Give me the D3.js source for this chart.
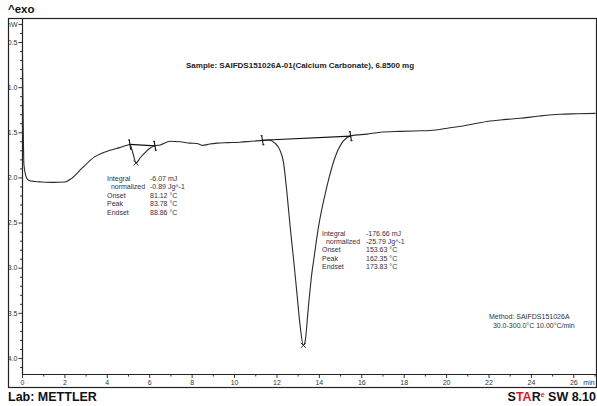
<!DOCTYPE html>
<html>
<head>
<meta charset="utf-8">
<script src="https://cdn.jsdelivr.net/npm/d3@7/dist/d3.min.js"></script>
<style>
  html, body { margin: 0; padding: 0; background: #fff; }
  svg { display: block; font-family: "Liberation Sans", Arial, sans-serif; }
</style>
</head>
<body>
<svg id="chart" width="597" height="406"></svg>
<script>
// ---- data (time in min, heat flow in mW) ----
const time = [0.02,0.06,0.09,0.19,0.30,0.60,0.93,1.5,2.03,2.34,2.82,3.44,4.15,4.6,5.0,5.09,5.24,5.38,5.57,5.8,6.03,6.27,6.51,6.98,7.45,7.92,8.25,8.54,8.85,9.20,9.7,10.28,10.8,11.37,11.62,11.93,12.17,12.33,12.49,12.64,12.80,12.96,13.11,13.27,13.35,13.50,13.66,13.79,13.96,14.37,14.84,15.08,15.32,15.50,16.27,16.89,17.83,18.5,19.25,20.19,20.80,21.93,22.7,23.49,24.4,25.38,26.2,27.05];
const heatFlow = [0.59,1.47,1.86,1.99,2.03,2.045,2.05,2.055,2.05,2.01,1.90,1.77,1.70,1.67,1.64,1.635,1.74,1.84,1.785,1.726,1.677,1.65,1.64,1.60,1.605,1.62,1.625,1.645,1.63,1.62,1.615,1.61,1.60,1.59,1.585,1.62,1.70,1.83,2.16,2.53,2.89,3.27,3.63,3.86,3.82,3.45,3.08,2.86,2.58,2.11,1.73,1.62,1.56,1.54,1.52,1.50,1.49,1.485,1.48,1.45,1.43,1.38,1.36,1.345,1.32,1.30,1.295,1.29];

// integration limits [t, mW] and peaks
const limitsSmall = [[5.09, 1.635], [6.27, 1.65]];
const limitsBig = [[11.34, 1.588], [15.5, 1.543]];
const peaks = [[5.38, 1.84], [13.27, 3.86]];

// ticks
const xMajorTicks = [0,2,4,6,8,10,12,14,16,18,20,22,24,26];
const xMinorTicks = [1,3,5,7,9,11,13,15,17,19,21,23,25,27];
const yMajorTicks = [0.3,0.5,1.0,1.5,2.0,2.5,3.0,3.5,4.0];
const yMajorLabels = ["mW","0.5","1.0","1.5","2.0","2.5","3.0","3.5","4.0"];
const yMinorTicks = [0.4,0.6,0.7,0.8,0.9,1.1,1.2,1.3,1.4,1.6,1.7,1.8,1.9,2.1,2.2,2.3,2.4,2.6,2.7,2.8,2.9,3.1,3.2,3.3,3.4,3.6,3.7,3.8,3.9,4.1];

// annotation texts
const annotSmallLabels = ["Integral","  normalized","Onset","Peak","Endset"];
const annotSmallValues = ["-6.07 mJ","-0.89 Jg^-1","81.12 °C","83.78 °C","88.86 °C"];
const annotBigLabels = ["Integral","  normalized","Onset","Peak","Endset"];
const annotBigValues = ["-176.66 mJ","-25.79 Jg^-1","153.63 °C","162.35 °C","173.83 °C"];
const sampleText = "Sample: SAIFDS151026A-01(Calcium Carbonate), 6.8500 mg";
const methodLines = ["Method: SAIFDS151026A", "  30.0-300.0°C 10.00°C/min"];

// ---- drawing ----
const svg = d3.select("#chart");
svg.append("rect").attr("width",597).attr("height",406).attr("fill","#fff");

const fL = 8, fR = 596, fT = 18, fB = 387;   // frame
const aL = 22, aB = 374;                     // axes

const x = d3.scaleLinear().domain([0, 27.07]).range([aL, fR]);
const y = d3.scaleLinear().domain([0.5, 4.0]).range([42, 358]);

svg.append("defs").append("clipPath").attr("id","frameClip")
  .append("rect").attr("x",fL).attr("y",fT).attr("width",fR-fL).attr("height",fB-fT);

const g = svg.append("g").attr("clip-path","url(#frameClip)");

// frame
svg.append("rect").attr("x",fL+0.5).attr("y",fT+0.5).attr("width",fR-fL).attr("height",fB-fT)
  .attr("fill","none").attr("stroke","#222").attr("stroke-width",1.2);

// y axis
const yAxis = d3.axisLeft(y).tickValues(yMajorTicks)
  .tickFormat((d,i)=>yMajorLabels[i]).tickSize(3.5).tickPadding(1);
const yg = g.append("g").attr("transform",`translate(${aL},0)`).call(yAxis);
const yAxisMinor = d3.axisLeft(y).tickValues(yMinorTicks).tickFormat("").tickSize(2);
const ygm = g.append("g").attr("transform",`translate(${aL},0)`).call(yAxisMinor);
[yg, ygm].forEach(s=>{
  s.select(".domain").remove();
  s.selectAll("line").attr("stroke","#333").attr("stroke-width",1);
  s.selectAll("text").attr("font-size",7).attr("fill","#333")
    .attr("font-family","Liberation Sans, Arial, sans-serif");
});
g.append("line").attr("x1",aL+0.5).attr("x2",aL+0.5).attr("y1",fT).attr("y2",aB)
  .attr("stroke","#222").attr("stroke-width",1.2);

// x axis
const xAxis = d3.axisBottom(x).tickValues(xMajorTicks).tickSize(4).tickPadding(2);
const xg = g.append("g").attr("transform",`translate(0,${aB})`).call(xAxis);
const xAxisMinor = d3.axisBottom(x).tickValues(xMinorTicks).tickFormat("").tickSize(2.5);
const xgm = g.append("g").attr("transform",`translate(0,${aB})`).call(xAxisMinor);
[xg, xgm].forEach(s=>{
  s.select(".domain").remove();
  s.selectAll("line").attr("stroke","#333").attr("stroke-width",1);
  s.selectAll("text").attr("font-size",7).attr("fill","#333")
    .attr("font-family","Liberation Sans, Arial, sans-serif");
});
g.append("line").attr("x1",aL).attr("x2",fR).attr("y1",aB+0.5).attr("y2",aB+0.5)
  .attr("stroke","#222").attr("stroke-width",1.2);
g.append("text").attr("x",589).attr("y",aB+11).attr("font-size",7).attr("fill","#333")
  .attr("text-anchor","middle").text("min");

// curve
const pts = time.map((t,i)=>[t, heatFlow[i]]);
const line = d3.line().x(d=>x(d[0])).y(d=>y(d[1])).curve(d3.curveMonotoneX);
g.append("path").attr("d", line(pts)).attr("fill","none")
  .attr("stroke","#2a2a2a").attr("stroke-width",1.1);

// integration baselines
const straight = d3.line().x(d=>x(d[0])).y(d=>y(d[1]));
[limitsSmall, limitsBig].forEach(L=>{
  g.append("path").attr("d", straight(L)).attr("fill","none")
    .attr("stroke","#111").attr("stroke-width",1.2);
  L.forEach(p=>{
    const px = x(p[0]), py = y(p[1]);
    g.append("line").attr("x1",px-0.8).attr("x2",px+0.8).attr("y1",py-5).attr("y2",py+5)
      .attr("stroke","#111").attr("stroke-width",1.1);
    g.append("line").attr("x1",px-2).attr("x2",px).attr("y1",py-4.5).attr("y2",py-4.5)
      .attr("stroke","#111").attr("stroke-width",0.8);
    g.append("line").attr("x1",px).attr("x2",px+2).attr("y1",py+4.5).attr("y2",py+4.5)
      .attr("stroke","#111").attr("stroke-width",0.8);
  });
});

// peak markers
peaks.forEach(p=>{
  const px = x(p[0]), py = y(p[1]);
  g.append("path").attr("d",`M${px-2.5},${py-2.5}L${px+2.5},${py+2.5}M${px-2.5},${py+2.5}L${px+2.5},${py-2.5}`)
    .attr("stroke","#222").attr("stroke-width",0.9);
});

// annotations
function annot(labels, values, lx, vx, y0, dy){
  labels.forEach((l,i)=>{
    g.append("text").attr("x",lx).attr("y",y0+i*dy).attr("font-size",7)
      .attr("fill","#3a2d44").attr("xml:space","preserve").style("white-space","pre").text(l);
    g.append("text").attr("x",vx).attr("y",y0+i*dy).attr("font-size",7)
      .attr("fill","#3a2d44").text(values[i]);
  });
}
annot(annotSmallLabels, annotSmallValues, 107, 150, 180.5, 8.6);
annot(annotBigLabels, annotBigValues, 322, 366, 235.5, 8.4);

g.append("text").attr("x",186).attr("y",67.8).attr("font-size",8).attr("font-weight","bold")
  .attr("fill","#222").text(sampleText);

methodLines.forEach((m,i)=>{
  g.append("text").attr("x",489).attr("y",319+i*9).attr("font-size",7)
    .attr("fill","#333").style("white-space","pre").text(m);
});

// header / footer
svg.append("text").attr("x",8).attr("y",13).attr("font-size",11.5).attr("font-weight","bold")
  .attr("fill","#111").text("^exo");
svg.append("text").attr("x",8).attr("y",401).attr("font-size",12.5).attr("font-weight","bold")
  .attr("fill","#111").text("Lab: METTLER");
const star = svg.append("text").attr("x",596).attr("y",401).attr("font-size",12.5)
  .attr("font-weight","bold").attr("text-anchor","end").attr("fill","#111");
star.append("tspan").text("S");
star.append("tspan").attr("fill","#e2141b").text("TA");
star.append("tspan").text("R");
star.append("tspan").attr("fill","#e2141b").attr("font-size",7).attr("dy",-4).text("e");
star.append("tspan").attr("dy",4).text(" SW 8.10");
</script>
</body>
</html>
